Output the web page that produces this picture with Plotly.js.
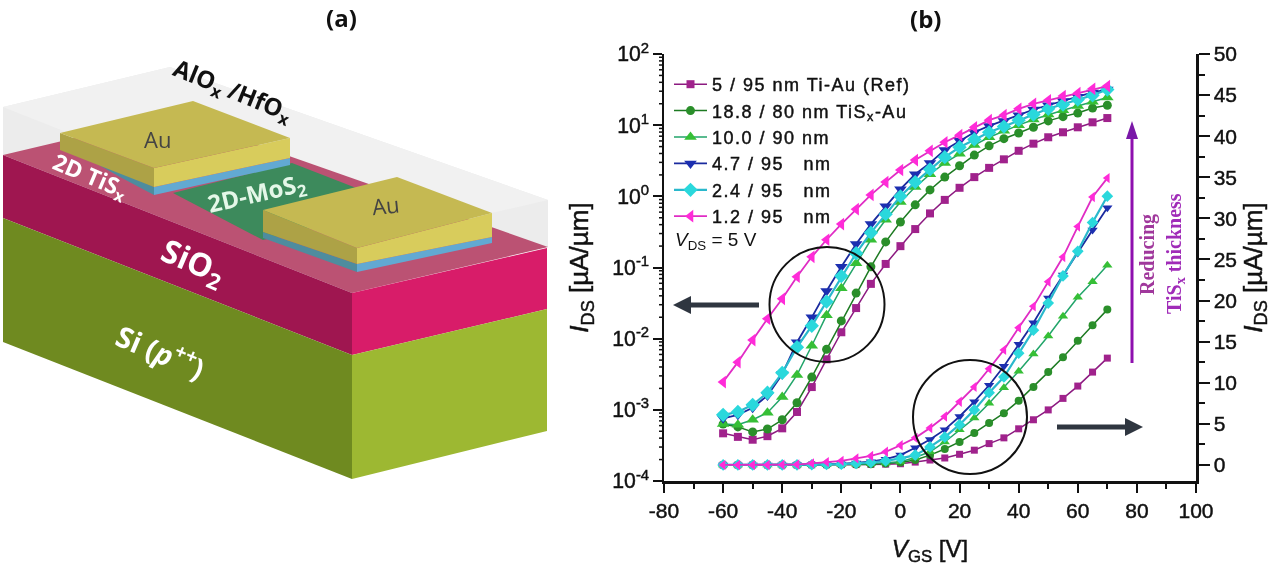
<!DOCTYPE html>
<html><head><meta charset="utf-8">
<script src="https://cdn.plot.ly/plotly-3.0.1.min.js"></script>
<style>html,body{margin:0;padding:0;background:#fff;overflow:hidden}#c{width:1280px;height:569px;filter:blur(0.4px)}
.legendtext{letter-spacing:1.5px}
.legendtext,.xtick text,.ytick text,.y2tick text,.xtitle,.ytitle,.y2title{stroke:#111;stroke-width:0.45px}</style>
</head><body><div id="c"></div>
<script>
const vgs=[-60,-55,-50,-45,-40,-35,-30,-25,-20,-15,-10,-5,0,5,10,15,20,25,30,35,40,45,50,55,60,65,70];
const logRef=[-3.33,-3.38,-3.42,-3.37,-3.26,-3.03,-2.68,-2.29,-1.91,-1.57,-1.23,-0.95,-0.70,-0.46,-0.24,-0.05,0.12,0.27,0.40,0.52,0.64,0.74,0.83,0.90,0.97,1.04,1.10];
const log188=[-3.20,-3.24,-3.31,-3.27,-3.14,-2.90,-2.54,-2.15,-1.75,-1.36,-0.99,-0.64,-0.36,-0.12,0.09,0.27,0.43,0.58,0.71,0.81,0.89,0.97,1.06,1.12,1.17,1.24,1.28];
const log100=[-3.20,-3.21,-3.14,-3.04,-2.82,-2.51,-2.10,-1.67,-1.29,-0.94,-0.61,-0.33,-0.08,0.13,0.31,0.47,0.60,0.72,0.83,0.92,1.00,1.08,1.15,1.21,1.27,1.33,1.39];
const log47=[-3.12,-3.07,-2.97,-2.80,-2.50,-2.05,-1.70,-1.33,-0.99,-0.67,-0.39,-0.14,0.10,0.31,0.47,0.65,0.78,0.90,0.99,1.06,1.14,1.22,1.28,1.34,1.40,1.46,1.50];
const log24=[-3.07,-3.03,-2.93,-2.76,-2.48,-2.12,-1.82,-1.48,-1.12,-0.80,-0.51,-0.25,0.00,0.20,0.38,0.55,0.69,0.80,0.90,0.98,1.07,1.15,1.23,1.29,1.36,1.42,1.50];
const log12=[-2.61,-2.33,-2.02,-1.72,-1.44,-1.13,-0.85,-0.61,-0.39,-0.18,0.02,0.20,0.37,0.51,0.64,0.76,0.86,0.97,1.07,1.14,1.23,1.30,1.35,1.41,1.45,1.51,1.55];
const linRef=[0,0,0,0,0,0,0.02,0.03,0.04,0.05,0.07,0.1,0.15,0.35,0.6,0.85,1.3,1.8,2.6,3.3,4.4,5.5,6.7,8.1,9.6,11.3,13.0];
const lin188=[0,0,0,0,0,0,0.02,0.03,0.05,0.07,0.1,0.18,0.3,0.6,1.2,1.95,2.8,3.9,5.1,6.3,7.8,9.5,11.3,13.1,15.1,17.0,18.9];
const lin100=[0,0,0,0,0,0,0.02,0.04,0.06,0.09,0.14,0.25,0.4,0.9,1.6,2.8,4.3,5.7,7.5,9.4,11.4,13.5,15.7,18.1,20.4,22.3,24.3];
const lin47=[0,0,0,0,0,0.02,0.04,0.07,0.13,0.25,0.4,0.7,1.2,2.1,3.1,4.3,5.9,7.7,9.7,12.0,14.7,17.3,20.3,23.1,25.8,28.6,31.3];
const lin24=[0,0,0,0,0,0.02,0.03,0.06,0.1,0.18,0.3,0.5,0.8,1.2,2.2,3.4,4.9,6.7,8.8,10.7,13.6,16.4,19.7,23.0,26.0,29.5,32.7];
const lin12=[0,0,0,0,0.03,0.05,0.2,0.35,0.5,0.8,1.1,1.6,2.4,3.3,4.5,5.9,7.7,9.5,11.7,14.0,16.7,19.3,22.3,25.3,29.0,32.6,34.9];
const names=["5 / 95 nm Ti-Au (Ref)","18.8 / 80 nm TiS<sub>x</sub>-Au","10.0 / 90 nm","4.7 / 95   nm","2.4 / 95   nm","1.2 / 95   nm"];
const symbols=["square","circle","triangle-up","triangle-down","diamond","triangle-left"];
const lineColors=["#8c1a80","#1d7a22","#22a56a","#1a2a9e","#2ab8cc","#e02cc4"];
const markColors=["#a0228c","#2a8f2a","#36bf36","#1c2fb0","#2ad8dc","#ff2bd8"];
const logSeries=[logRef,log188,log100,log47,log24,log12];
const linSeries=[linRef,lin188,lin100,lin47,lin24,lin12];
const markLog=[8,9,11,11,11,11], markLin=[7,8,9,9,9,9];
const lineWidths=[1.5,1.5,1.5,1.8,2.2,1.8];
const xTicks=[-80,-60,-40,-20,0,20,40,60,80,100];
const xLabels=["-80","-60","-40","-20","0","20","40","60","80","100"];
const yLogDecades=[-4,-3,-2,-1,0,1];
const yLogMultiples=[2,3,4,5,6,7,8,9];
const yLogAlias={"1":"10<sup>0</sup>","10":"10<sup>1</sup>","10<sup>2</sup>":"10<sup>2</sup>",
 "10<sup>\u22121</sup>":"10<sup>-1</sup>","10<sup>\u22122</sup>":"10<sup>-2</sup>","10<sup>\u22123</sup>":"10<sup>-3</sup>","10<sup>\u22124</sup>":"10<sup>-4</sup>"};

const W=1280,H=569, X=v=>v/W, Y=v=>1-v/H;
const PL=664,PR=1196,PT=54,PB=481;
const sans='"Liberation Sans",Arial,sans-serif';
const tickFont={family:sans,size:21,color:'#111'};
const data=[];
names.forEach((n,i)=>{
  data.push({x:vgs,y:logSeries[i].map(v=>Math.pow(10,v)),xaxis:'x',yaxis:'y',name:n,mode:'lines+markers',legendgroup:'g'+i,
    line:{color:lineColors[i],width:lineWidths[i]},marker:{symbol:symbols[i],size:markLog[i],color:markColors[i]}});
});
names.forEach((n,i)=>{
  data.push({x:vgs,y:linSeries[i],xaxis:'x',yaxis:'y2',name:n,mode:'lines+markers',showlegend:false,legendgroup:'g'+i,
    line:{color:lineColors[i],width:lineWidths[i]},marker:{symbol:symbols[i],size:markLin[i],color:markColors[i]}});
});
function poly(pts,fill){return {type:'path',xref:'paper',yref:'paper',layer:'below',fillcolor:fill,line:{width:0},
  path:'M'+pts.map(p=>X(p[0])+','+Y(p[1])).join('L')+'Z'};}
function lineS(a,b,c,w){return {type:'line',xref:'paper',yref:'paper',x0:X(a[0]),y0:Y(a[1]),x1:X(b[0]),y1:Y(b[1]),line:{color:c,width:w}};}
function ell(cx,cy,r){return {type:'circle',xref:'paper',yref:'paper',x0:X(cx-r),x1:X(cx+r),y0:Y(cy-r),y1:Y(cy+r),line:{color:'#111',width:2}};}
function front(s){s.layer='above';return s;}
const logTickShapes=[];
yLogDecades.forEach(d=>yLogMultiples.forEach(m=>{
  const py=PB-(d+Math.log10(m)+4)/6*(PB-PT);
  logTickShapes.push(lineS([PL-5,py],[PL,py],'#111',1.5));
}));
const shapes=[
 poly([[3,107],[170,67],[548,200],[548,247],[352,293],[3,155]],'#ececec'),
 poly([[3,107],[170,67],[548,200],[352,245]],'#f1f1f1'),
 poly([[3,155],[172,115],[548,247],[352,293]],'#bb5273'),
 poly([[173,193],[292,163],[400,205],[263,240]],'#3d8a5c'),
 poly([[3,155],[352,293],[352,355],[3,218]],'#9f1650'),
 poly([[352,293],[547,248],[547,309],[352,355]],'#d81c69'),
 poly([[3,218],[352,355],[352,479],[3,342]],'#6f8a20'),
 poly([[352,355],[547,309],[547,431],[352,479]],'#9db832'),
 poly([[60,143],[154,187],[154,195],[120,177]],'#4e8c9e'),
 poly([[154,187],[290,158],[290,165],[154,195]],'#62a9d2'),
 poly([[60,133],[154,168],[154,187],[60,150]],'#ada246'),
 poly([[154,168],[290,138],[290,158],[154,187]],'#d8cc5c'),
 poly([[60,133],[193,101],[290,138],[154,168]],'#c5b952'),
 poly([[263,232],[357,264],[357,272],[263,238]],'#4e8c9e'),
 poly([[357,264],[492,237],[492,243],[357,272]],'#62a9d2'),
 poly([[263,210],[357,248],[357,264],[263,232]],'#ada246'),
 poly([[357,248],[492,213],[492,237],[357,264]],'#d8cc5c'),
 poly([[263,210],[397,177],[492,213],[357,248]],'#c5b952'),
 ell(827,304.5,57.5), ell(970,417,57),
 lineS([759,305],[685,305],'#2f3640',5),
 front(poly([[673,305],[691,296],[691,314]],'#2f3640')),
 lineS([1057,427],[1130,427],'#2f3640',5),
 front(poly([[1143,427],[1125,418],[1125,436]],'#2f3640')),
 lineS([1132,363],[1132,135],'#8e10ae',3),
 front(poly([[1132,121],[1126,139],[1138,139]],'#7a18a8'))
].concat(logTickShapes);
function note(x,y,text,size,color,angle,family){
 return {xref:'paper',yref:'paper',x:X(x),y:Y(y),text:text,showarrow:false,xanchor:'center',yanchor:'middle',
  textangle:angle||0,font:{family:family||'"Open Sans",sans-serif',size:size,color:color}};
}
const serif='"Liberation Serif",serif';
const annotations=[
 note(341,17,'<b>(a)</b>',24,'#111'),
 note(925,19,'<b>(b)</b>',24,'#111'),
 note(233,91,'<b>AlO<sub>x</sub> /HfO<sub>x</sub></b>',24,'#111',22),
 note(157,139,'Au',22,'#444'),
 note(385,205,'Au',22,'#444',-6),
 note(90,176,'<b>2D TiS<sub>x</sub></b>',23,'#fff',23),
 note(257,194,'<b>2D-MoS<sub>2</sub></b>',24,'#e4f7e8',-13),
 note(193,263,'<b>SiO<sub>2</sub></b>',32,'#fff',23),
 note(161,350,'<b>Si (<i>p</i><sup>++</sup>)</b>',29,'#fff',23),
 note(716,241,'<i>V</i><sub>DS</sub> = 5 V',19,'#111',0,sans),
 note(1147,255,'<b>Reducing</b>',20,'#a0389c',-90,serif),
 note(1175,254,'<b>TiS<sub>x</sub> thickness</b>',20,'#a02cb8',-90,serif)
];
const layout={
 width:W,height:H,margin:{l:0,r:0,t:0,b:0},paper_bgcolor:'#fff',plot_bgcolor:'rgba(0,0,0,0)',showlegend:true,
 legend:{x:X(669),y:Y(66),xanchor:'left',yanchor:'top',bgcolor:'rgba(0,0,0,0)',itemwidth:33,tracegroupgap:0,
   font:{family:sans,size:18,color:'#111'},itemclick:false},
 xaxis:{domain:[X(PL),X(PR)],range:[-80,100],anchor:'y',tickmode:'array',tickvals:xTicks,ticktext:xLabels,ticks:'outside',ticklen:9,tickwidth:2,tickcolor:'#111',
   showgrid:false,zeroline:false,showline:true,linewidth:2.5,linecolor:'#111',tickfont:tickFont,automargin:false,
   minor:{tickmode:'linear',dtick:10,tick0:0,ticks:'outside',ticklen:5,tickwidth:2,tickcolor:'#111',showgrid:false},
   title:{text:'<i>V</i><sub>GS</sub> [V]',font:{family:sans,size:24,color:'#111'},standoff:20}},
 xaxis2:{domain:[X(PL),X(PR)],range:[-80,100],overlaying:'x',anchor:'y',side:'top',dtick:20,tick0:0,ticks:'inside',ticklen:9,tickwidth:2,tickcolor:'#111',
   showticklabels:false,showgrid:false,zeroline:false,showline:true,linewidth:2.5,linecolor:'#111',
   minor:{dtick:10,tick0:0,ticks:'inside',ticklen:5,tickwidth:2,tickcolor:'#111',showgrid:false}},
 yaxis:{domain:[Y(PB),Y(PT)],type:'log',range:[-4,2],anchor:'x',dtick:1,exponentformat:'power',labelalias:yLogAlias,ticks:'outside',ticklen:9,tickwidth:2,tickcolor:'#111',
   showgrid:false,zeroline:false,showline:true,linewidth:2.5,linecolor:'#111',tickfont:{family:sans,size:17,color:'#111'},automargin:false,
   title:{text:'<i>I</i><sub>DS</sub> [µA/µm]',font:{family:sans,size:26,color:'#111'},standoff:16}},
 yaxis2:{domain:[Y(PB),Y(PT)],range:[-1.95,50],overlaying:'y',anchor:'x',side:'right',dtick:5,tick0:0,ticks:'outside',ticklen:11,tickwidth:2,tickcolor:'#111',
   showgrid:false,zeroline:false,showline:true,linewidth:2.5,linecolor:'#111',tickfont:tickFont,automargin:false,
   minor:{dtick:2.5,tick0:0,ticks:'outside',ticklen:6,tickwidth:2,tickcolor:'#111',showgrid:false},
   title:{text:'<i>I</i><sub>DS</sub> [µA/µm]',font:{family:sans,size:26,color:'#111'},standoff:8}},
 shapes:shapes,annotations:annotations
};
Plotly.newPlot('c',data,layout,{displayModeBar:false,staticPlot:true});
</script></body></html>
